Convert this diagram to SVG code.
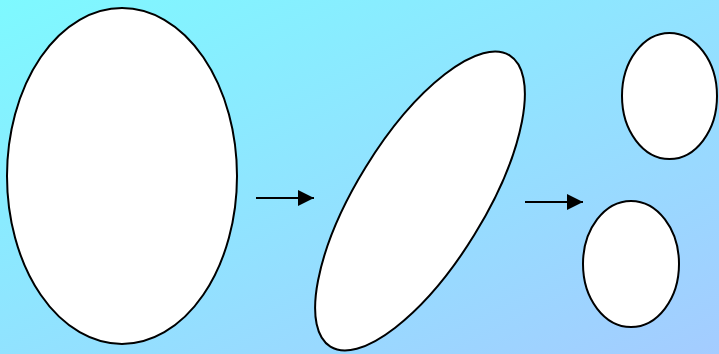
<svg xmlns="http://www.w3.org/2000/svg" width="719" height="354" viewBox="0 0 719 354">
<style>
.cell{fill:#ffffff;stroke:#000000;stroke-width:2}
.conn{stroke:#000000;stroke-width:2;fill:none}
</style>
<defs>
<linearGradient id="bg" x1="0" y1="0" x2="1" y2="1">
<stop offset="0" stop-color="#7ef9ff"/>
<stop offset="1" stop-color="#a4ccff"/>
</linearGradient>
<marker id="arr" markerUnits="userSpaceOnUse" markerWidth="18" markerHeight="18" refX="16" refY="8" orient="auto">
<path d="M0,0 L16,8 L0,16 Z" fill="#000000"/>
</marker>
</defs>
<rect x="0" y="0" width="719" height="354" fill="url(#bg)"/>
<g id="cell1"><ellipse class="cell" cx="122" cy="176" rx="115" ry="168"/></g>
<g id="cell2"><ellipse class="cell" cx="420" cy="201" rx="64" ry="171" transform="rotate(31.6 420 201)"/></g>
<g id="cell3"><ellipse class="cell" cx="669.5" cy="96" rx="47.5" ry="63"/></g>
<g id="cell4"><ellipse class="cell" cx="631" cy="264" rx="48" ry="63"/></g>
<g id="connectors">
<line class="conn" x1="256" y1="198" x2="314" y2="198" marker-end="url(#arr)"/>
<line class="conn" x1="525" y1="202" x2="583" y2="202" marker-end="url(#arr)"/>
</g>
</svg>
